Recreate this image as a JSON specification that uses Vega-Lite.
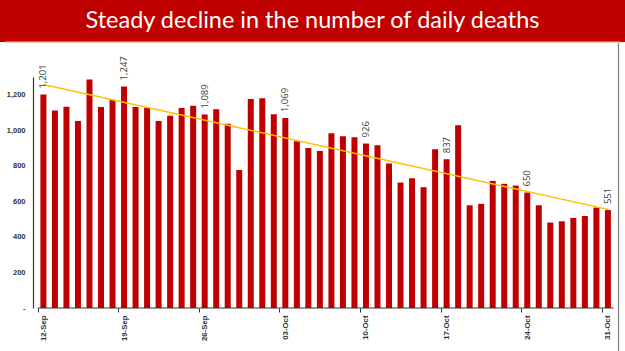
{
  "$schema": "https://vega.github.io/schema/vega-lite/v6.json",
  "padding": 0,
  "spacing": 35,
  "bounds": "flush",
  "background": "white",
  "config": {"view": {"stroke": null}},
  "datasets": {
    "deaths": [
      {"date": "2020-09-12", "deaths": 1201, "labeled": true},
      {"date": "2020-09-13", "deaths": 1112, "labeled": false},
      {"date": "2020-09-14", "deaths": 1132, "labeled": false},
      {"date": "2020-09-15", "deaths": 1052, "labeled": false},
      {"date": "2020-09-16", "deaths": 1286, "labeled": false},
      {"date": "2020-09-17", "deaths": 1131, "labeled": false},
      {"date": "2020-09-18", "deaths": 1170, "labeled": false},
      {"date": "2020-09-19", "deaths": 1247, "labeled": true},
      {"date": "2020-09-20", "deaths": 1131, "labeled": false},
      {"date": "2020-09-21", "deaths": 1125, "labeled": false},
      {"date": "2020-09-22", "deaths": 1052, "labeled": false},
      {"date": "2020-09-23", "deaths": 1082, "labeled": false},
      {"date": "2020-09-24", "deaths": 1125, "labeled": false},
      {"date": "2020-09-25", "deaths": 1138, "labeled": false},
      {"date": "2020-09-26", "deaths": 1089, "labeled": true},
      {"date": "2020-09-27", "deaths": 1119, "labeled": false},
      {"date": "2020-09-28", "deaths": 1037, "labeled": false},
      {"date": "2020-09-29", "deaths": 776, "labeled": false},
      {"date": "2020-09-30", "deaths": 1176, "labeled": false},
      {"date": "2020-10-01", "deaths": 1180, "labeled": false},
      {"date": "2020-10-02", "deaths": 1091, "labeled": false},
      {"date": "2020-10-03", "deaths": 1069, "labeled": true},
      {"date": "2020-10-04", "deaths": 939, "labeled": false},
      {"date": "2020-10-05", "deaths": 900, "labeled": false},
      {"date": "2020-10-06", "deaths": 884, "labeled": false},
      {"date": "2020-10-07", "deaths": 984, "labeled": false},
      {"date": "2020-10-08", "deaths": 967, "labeled": false},
      {"date": "2020-10-09", "deaths": 961, "labeled": false},
      {"date": "2020-10-10", "deaths": 926, "labeled": true},
      {"date": "2020-10-11", "deaths": 916, "labeled": false},
      {"date": "2020-10-12", "deaths": 813, "labeled": false},
      {"date": "2020-10-13", "deaths": 706, "labeled": false},
      {"date": "2020-10-14", "deaths": 730, "labeled": false},
      {"date": "2020-10-15", "deaths": 680, "labeled": false},
      {"date": "2020-10-16", "deaths": 894, "labeled": false},
      {"date": "2020-10-17", "deaths": 837, "labeled": true},
      {"date": "2020-10-18", "deaths": 1029, "labeled": false},
      {"date": "2020-10-19", "deaths": 578, "labeled": false},
      {"date": "2020-10-20", "deaths": 586, "labeled": false},
      {"date": "2020-10-21", "deaths": 715, "labeled": false},
      {"date": "2020-10-22", "deaths": 699, "labeled": false},
      {"date": "2020-10-23", "deaths": 689, "labeled": false},
      {"date": "2020-10-24", "deaths": 650, "labeled": true},
      {"date": "2020-10-25", "deaths": 578, "labeled": false},
      {"date": "2020-10-26", "deaths": 481, "labeled": false},
      {"date": "2020-10-27", "deaths": 488, "labeled": false},
      {"date": "2020-10-28", "deaths": 507, "labeled": false},
      {"date": "2020-10-29", "deaths": 518, "labeled": false},
      {"date": "2020-10-30", "deaths": 565, "labeled": false},
      {"date": "2020-10-31", "deaths": 551, "labeled": true}
    ],
    "trend": [
      {"date": "2020-09-12", "trend": 1258},
      {"date": "2020-10-31", "trend": 555}
    ],
    "banner": [
      {"title": "Steady decline in the number of daily deaths"}
    ]
  },
  "vconcat": [
    {
      "width": 625,
      "height": 42,
      "view": {"fill": "#C00000", "stroke": null},
      "data": {"name": "banner"},
      "mark": {"type": "text", "color": "white", "font": "Lato", "fontSize": 23.5, "align": "center", "baseline": "middle"},
      "encoding": {"text": {"field": "title"}}
    },
    {
      "width": 625,
      "height": 231,
      "layer": [
        {
          "data": {"name": "deaths"},
          "mark": {"type": "bar", "color": "#C00000", "width": 6},
          "encoding": {
            "x": {
              "field": "date",
              "type": "temporal",
              "scale": {
                "type": "utc",
                "domain": [
                  {"year": 2020, "month": 9, "date": 8, "hours": 16, "utc": true},
                  {"year": 2020, "month": 11, "date": 1, "hours": 1, "minutes": 12, "utc": true}
                ]
              },
              "axis": {
                "title": null,
                "domain": false,
                "grid": false,
                "tickCount": 20,
                "values": [
                  {"year": 2020, "month": 9, "date": 12, "utc": true},
                  {"year": 2020, "month": 9, "date": 19, "utc": true},
                  {"year": 2020, "month": 9, "date": 26, "utc": true},
                  {"year": 2020, "month": 10, "date": 3, "utc": true},
                  {"year": 2020, "month": 10, "date": 10, "utc": true},
                  {"year": 2020, "month": 10, "date": 17, "utc": true},
                  {"year": 2020, "month": 10, "date": 24, "utc": true},
                  {"year": 2020, "month": 10, "date": 31, "utc": true}
                ],
                "format": "%d-%b",
                "labelAngle": 270,
                "labelAlign": "right",
                "labelBaseline": "middle",
                "labelFont": "Liberation Sans",
                "labelFontWeight": "bold",
                "labelFontSize": 7.8,
                "labelColor": "#333333",
                "labelPadding": 3,
                "tickOffset": -5.85,
                "labelOffset": 5.85,
                "tickSize": 4,
                "tickColor": "#333333",
                "labelFlush": false,
                "labelOverlap": false
              }
            },
            "y": {
              "field": "deaths",
              "type": "quantitative",
              "scale": {"domain": [0, 1300], "nice": false},
              "axis": {
                "title": null,
                "grid": false,
                "ticks": false,
                "offset": -33,
                "tickCount": 20,
                "values": [0, 200, 400, 600, 800, 1000, 1200],
                "labelExpr": "datum.value === 0 ? '-' : format(datum.value, ',')",
                "labelFont": "Liberation Sans",
                "labelFontWeight": "bold",
                "labelFontSize": 7.5,
                "labelColor": "#333333",
                "labelPadding": 8,
                "labelOverlap": false,
                "labelFlush": false,
                "domainColor": "#333333",
                "domainWidth": 1.2
              }
            }
          }
        },
        {
          "data": {"name": "trend"},
          "mark": {"type": "line", "color": "#FFC000", "strokeWidth": 1.5},
          "encoding": {
            "x": {"field": "date", "type": "temporal"},
            "y": {"field": "trend", "type": "quantitative"}
          }
        },
        {
          "data": {"name": "deaths"},
          "transform": [{"filter": "datum.labeled"}],
          "mark": {"type": "text", "angle": 270, "align": "left", "baseline": "middle", "dx": 6, "font": "Open Sans", "fontSize": 9.5, "color": "#404040"},
          "encoding": {
            "x": {"field": "date", "type": "temporal"},
            "y": {"field": "deaths", "type": "quantitative"},
            "text": {"field": "deaths", "type": "quantitative", "format": ","}
          }
        },
        {
          "data": {"values": [{}]},
          "mark": {"type": "rule", "color": "#333333", "strokeWidth": 1.2},
          "encoding": {
            "x": {"datum": {"year": 2020, "month": 9, "date": 11, "hours": 12, "utc": true}, "type": "temporal"},
            "x2": {"datum": {"year": 2020, "month": 10, "date": 31, "hours": 12, "utc": true}},
            "y": {"datum": 0, "type": "quantitative"}
          }
        },
        {
          "data": {"values": [{}]},
          "mark": {"type": "rule", "color": "#F4C7A8", "strokeWidth": 1.5},
          "encoding": {
            "x": {"datum": {"year": 2020, "month": 9, "date": 8, "hours": 16, "utc": true}, "type": "temporal"},
            "x2": {"datum": {"year": 2020, "month": 11, "date": 1, "hours": 1, "minutes": 12, "utc": true}},
            "y": {"datum": 1495, "type": "quantitative"}
          }
        },
        {
          "data": {"values": [{}]},
          "mark": {"type": "rule", "color": "#7F7F7F", "strokeWidth": 1.2},
          "encoding": {
            "x": {"datum": {"year": 2020, "month": 10, "date": 31, "hours": 22, "minutes": 5, "utc": true}, "type": "temporal"},
            "y": {"datum": 1490, "type": "quantitative"},
            "y2": {"datum": -250}
          }
        }
      ]
    }
  ]
}
